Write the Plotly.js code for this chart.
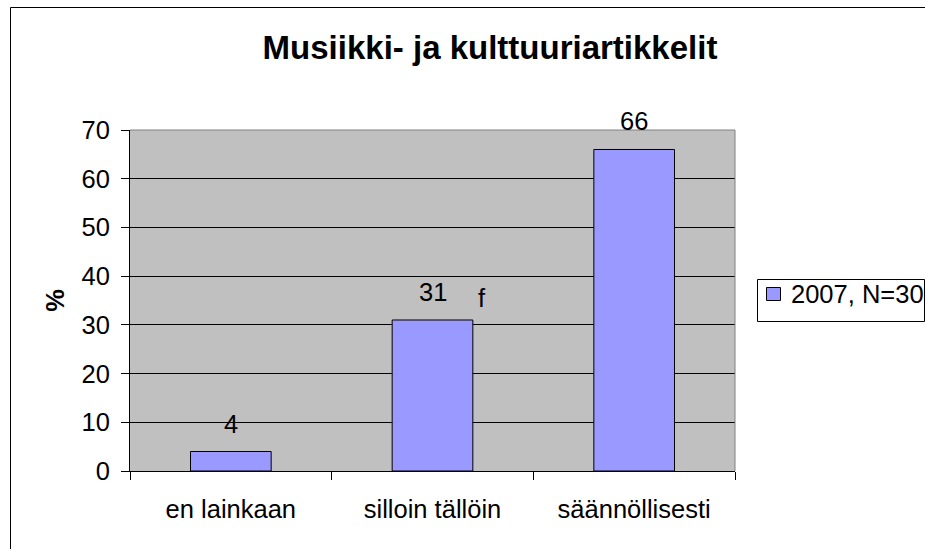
<!DOCTYPE html>
<html><head><meta charset="utf-8">
<script src="https://cdn.plot.ly/plotly-3.0.1.min.js"></script>
<style>html,body{margin:0;padding:0;background:#fff;}#chart{width:925px;height:549px;}</style>
</head><body><div id="chart"></div>
<script>
const categories = ["en lainkaan", "silloin tällöin", "säännöllisesti"];
const values = [4, 31, 66];
const seriesName = "2007, N=30";
const yTicks = [0, 10, 20, 30, 40, 50, 60, 70];
const strayLabel = {x: 1.243, y: 35.5, text: "f"};
const barColor = "#9999FF";

const F = "Arial, 'Liberation Sans', sans-serif";
const FS = 25.5;
const L = 130, R = 190, T = 130, B = 78;
const W = 925, H = 549;
const pw = W - L - R, ph = H - T - B;
const px = v => (v - L) / pw;
const py = v => 1 - (v - T) / ph;

const trace = {
  type: "bar", x: categories, y: values, name: seriesName,
  marker: {color: barColor, line: {color: "#000", width: 1}},
  hoverinfo: "none", showlegend: false
};

const annotations = categories.map((c, i) => ({
  x: c, y: values[i], xref: "x", yref: "y", text: String(values[i]),
  showarrow: false, yshift: 28, font: {family: F, size: FS, color: "#000"}
}));
annotations.push({x: strayLabel.x, y: strayLabel.y, xref: "x", yref: "y",
  text: strayLabel.text, showarrow: false, font: {family: F, size: FS, color: "#000"}});
// legend text
annotations.push({x: px(789), y: py(294), xref: "paper", yref: "paper", xanchor: "left", yanchor: "middle",
  text: seriesName, showarrow: false, font: {family: F, size: FS, color: "#000"}});

const layout = {
  width: W, height: H,
  margin: {l: L, r: R, t: T, b: B, pad: 0},
  paper_bgcolor: "#fff", plot_bgcolor: "#C0C0C0",
  bargap: 0.6,
  title: {text: "<b>Musiikki- ja kulttuuriartikkelit</b>", font: {family: F, size: 33, color: "#000"},
          x: 490 / W, xanchor: "center", xref: "container", y: 1 - 47 / H, yanchor: "middle", yref: "container"},
  xaxis: {type: "category", showline: true, linecolor: "#000", linewidth: 1,
          ticks: "outside", ticklen: 8, tickcolor: "#000", tickson: "boundaries",
          ticklabelstandoff: 15,
          tickfont: {family: F, size: FS, color: "#000"}, showgrid: false, zeroline: false,
          fixedrange: true},
  yaxis: {range: [0, 70], tickvals: yTicks, showline: true, linecolor: "#000", linewidth: 1,
          ticks: "outside", ticklen: 8, tickcolor: "#000", ticklabelstandoff: 6,
          tickfont: {family: F, size: FS, color: "#000"},
          showgrid: true, gridcolor: "#000", gridwidth: 1, zeroline: false,
          title: {text: "<b>%</b>", font: {family: F, size: FS, color: "#000"}, standoff: 9},
          fixedrange: true},
  showlegend: false,
  annotations: annotations,
  shapes: [
    {type: "line", xref: "paper", yref: "paper", x0: 0, x1: 1, y0: 1, y1: 1, line: {color: "#808080", width: 1}},
    {type: "line", xref: "paper", yref: "paper", x0: 1, x1: 1, y0: 0, y1: 1, line: {color: "#808080", width: 1}},
    {type: "line", xref: "paper", yref: "paper", x0: px(10.5), x1: px(10.5), y0: py(7.5), y1: py(560), line: {color: "#000", width: 1}},
    {type: "line", xref: "paper", yref: "paper", x0: px(10.5), x1: px(940), y0: py(7.5), y1: py(7.5), line: {color: "#000", width: 1}},
    // legend box and key
    {type: "rect", xref: "paper", yref: "paper", x0: px(757.5), x1: px(924.5), y0: py(279.5), y1: py(321.5),
     line: {color: "#000", width: 1}, fillcolor: "#fff"},
    {type: "rect", xref: "paper", yref: "paper", x0: px(766.5), x1: px(780.5), y0: py(287.5), y1: py(300.5),
     line: {color: "#000", width: 1}, fillcolor: barColor}
  ]
};

Plotly.newPlot("chart", [trace], layout, {displayModeBar: false, staticPlot: true});
</script></body></html>
